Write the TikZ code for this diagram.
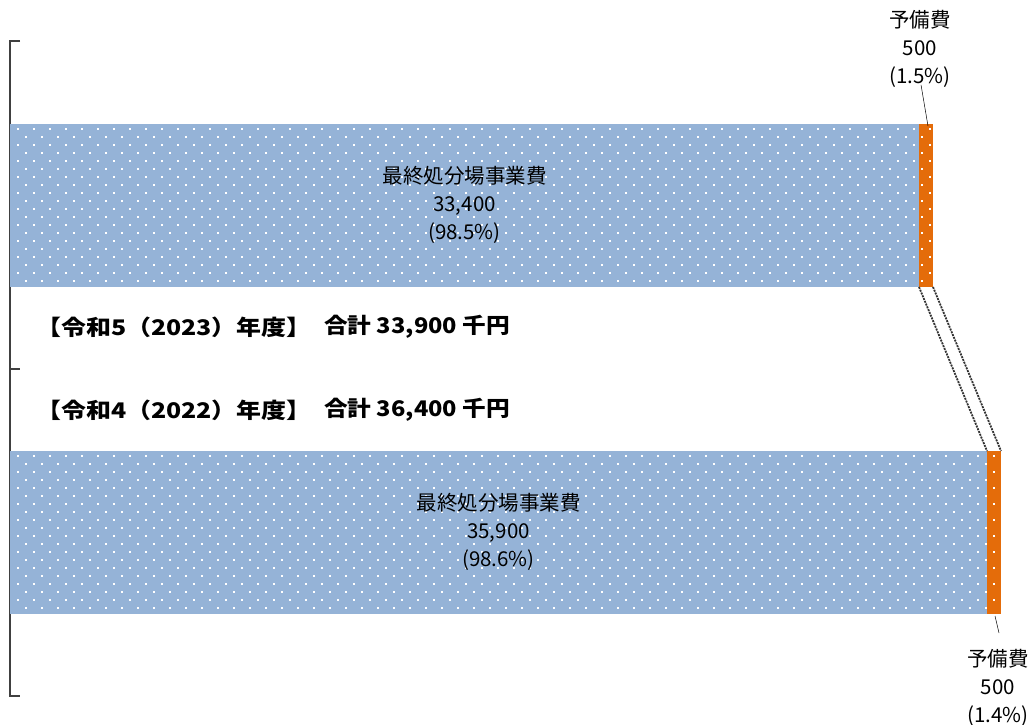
\documentclass[tikz,border=0pt]{standalone}
\usepackage{fontspec}
\setmainfont{Noto Sans CJK JP}
\definecolor{barblue}{HTML}{95B3D7}
\definecolor{barorange}{HTML}{E46C0A}
\definecolor{axisgray}{HTML}{404040}
\begin{document}
\begin{tikzpicture}[x=1pt,y=-1pt,
  barbox/.style={draw=none,inner sep=0pt,outer sep=0pt,anchor=north west},
  lbl/.style={align=center,inner sep=0pt,font=\fontsize{20.5}{28}\selectfont},
  head/.style={anchor=west,inner sep=0pt,font=\bfseries\fontsize{21.5}{24}\selectfont},
  axis/.style={axisgray,line width=1.4pt},
  link/.style={black!80,line width=1.8pt,dash pattern=on 2pt off 1pt},
  leader/.style={black,line width=0.5pt}]
\useasboundingbox (0,0) rectangle (1031,724);
% axis
\coordinate (axT) at (10,41);
\coordinate (axM) at (10,369);
\coordinate (axB) at (10,696);
\coordinate (tkT) at (20,41);
\coordinate (tkM) at (20,369);
\coordinate (tkB) at (20,696);
\draw[axis] (tkT) -- (axT) -- (axB) -- (tkB);
\draw[axis] (axM) -- (tkM);
% bars
\node[barbox,fill=barblue,minimum width=909pt,minimum height=163pt] (b1) at (10,124) {};
\node[barbox,fill=barorange,minimum width=14pt,minimum height=163pt] (o1) at (919,124) {};
\node[barbox,fill=barblue,minimum width=977pt,minimum height=163pt] (b2) at (10,451) {};
\node[barbox,fill=barorange,minimum width=14pt,minimum height=163pt] (o2) at (987,451) {};
% dots
\begin{scope}
\clip (10,124) rectangle (933,287);
\foreach \r in {0,...,19}{
  \pgfmathsetmacro\yy{129+8*\r}
  \pgfmathsetmacro\xo{18+8*mod(\r,2)}
  \foreach \c in {0,...,57}{
    \pgfmathsetmacro\xx{\xo+16*\c}
    \fill[white] (\xx-0.9,\yy-0.9) rectangle (\xx+0.9,\yy+0.9);
  }
}
\end{scope}
\begin{scope}
\clip (10,451) rectangle (1001,614);
\foreach \r in {0,...,19}{
  \pgfmathsetmacro\yy{456+8*\r}
  \pgfmathsetmacro\xo{18+8*mod(\r,2)}
  \foreach \c in {0,...,62}{
    \pgfmathsetmacro\xx{\xo+16*\c}
    \fill[white] (\xx-0.9,\yy-0.9) rectangle (\xx+0.9,\yy+0.9);
  }
}
\end{scope}
% bar labels
\node[lbl] (t1) at (464.5,205) {最終処分場事業費\\33,400\\(98.5\%)};
\node[lbl] (t2) at (498.5,532) {最終処分場事業費\\35,900\\(98.6\%)};
% reserve labels
\node[lbl] (r1) at (920,49) {予備費\\500\\(1.5\%)};
\node[lbl] (r2) at (998,688) {予備費\\500\\(1.4\%)};
\coordinate (r1end) at (928,126);
\coordinate (r2end) at (995,616);
\coordinate (r2top) at (999,633);
\draw[leader] (r1.south) ++(1,-3) -- (r1end);
\draw[leader] (r2end) -- (r2top);
% connectors
\draw[link] (o1.south west) -- (o2.north west);
\draw[link] (o1.south east) -- (o2.north east);
% headings
\node[head] (h1) at (36,327) {\scalebox{1.16}[1]{【令和5（2023）年度】}};
\node[head] (s1) at (324,327) {\scalebox{1.1}[1]{合計 33,900 千円}};
\node[head] (h2) at (36,410) {\scalebox{1.16}[1]{【令和4（2022）年度】}};
\node[head] (s2) at (324,410) {\scalebox{1.1}[1]{合計 36,400 千円}};
\end{tikzpicture}
\end{document}
